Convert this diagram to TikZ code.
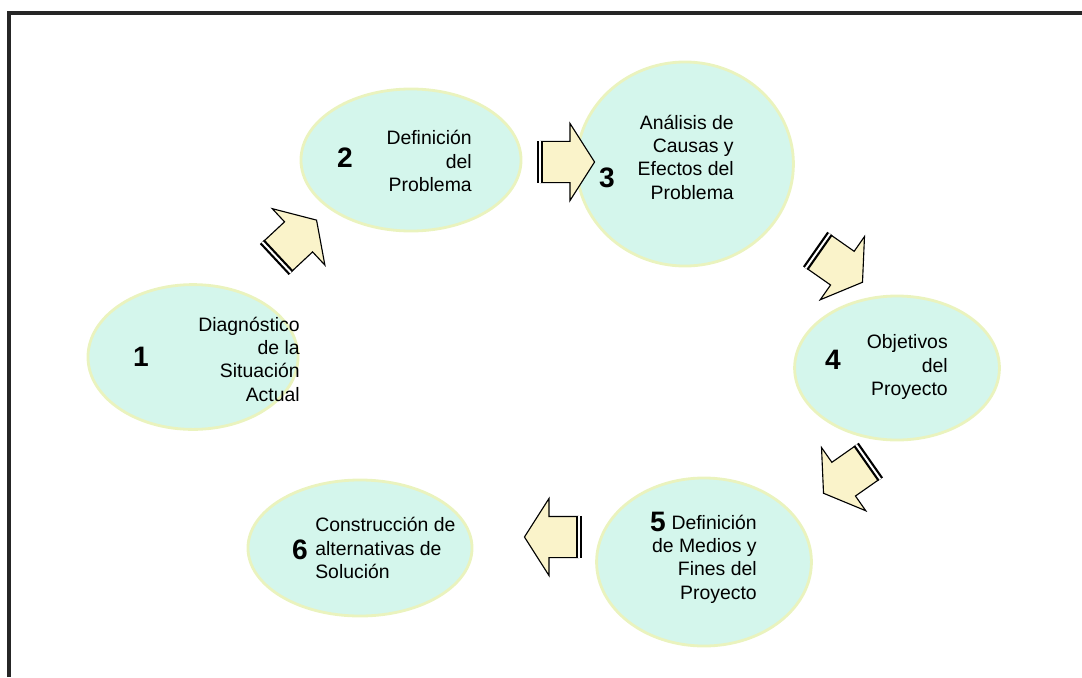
\documentclass[tikz,border=0pt]{standalone}
\usepackage{fontspec}
\setmainfont{Liberation Sans}
\usetikzlibrary{shapes.geometric,shapes.arrows,calc}
\definecolor{relleno}{RGB}{212,246,236}
\definecolor{borde}{RGB}{234,243,190}
\definecolor{crema}{RGB}{250,243,202}
\tikzset{
etapa/.style={ellipse,draw=borde,line width=2pt,fill=relleno,inner sep=0pt},
flecha/.style={single arrow,draw=black,fill=crema,line width=0.8pt,
  single arrow head extend=0.45cm,single arrow tip angle=115,
  inner xsep=0pt,inner ysep=0.5cm,minimum width=0pt,minimum height=1.35cm},
barra/.style={double=white,double distance=1.4pt,line width=1.6pt},
numero/.style={font=\fontsize{20}{24}\selectfont\bfseries,inner sep=0pt},
texto/.style={font=\fontsize{13.8}{16.6}\selectfont,align=right,inner sep=0pt}}

\begin{document}
\begin{tikzpicture}[x=0.025cm,y=-0.025cm]

\useasboundingbox (0,0) rectangle (1082,677);

\coordinate (abajo) at (9,677);
\coordinate (esquina) at (9,13);
\coordinate (derecha) at (1082,13);
\draw[line width=2.2pt,black!85] (abajo) -- (esquina) -- (derecha);

\node[etapa,minimum width=5.25cm,minimum height=3.62cm] (1) at (193,357) {};
\node[etapa,minimum width=5.5cm,minimum height=3.55cm] (2) at (411,160) {};
\node[etapa,minimum width=5.42cm,minimum height=5.1cm] (3) at (685,164) {};
\node[etapa,minimum width=5.12cm,minimum height=3.6cm] (4) at (897,368) {};
\node[etapa,minimum width=5.37cm,minimum height=4.2cm] (5) at (704,562) {};
\node[etapa,minimum width=5.6cm,minimum height=3.4cm] (6) at (360,548) {};

\node[numero] (n1) at (141,357) {1};
\node[numero] (n2) at (345,158) {2};
\node[numero] (n3) at (607,178) {3};
\node[numero] (n4) at (833,360) {4};
\node[numero] (n5) at (658,522) {5};
\node[numero] (n6) at (300,550) {6};

\node[texto,anchor=east] (t1) at (300,359) {Diagnóstico\\de la\\Situación\\Actual};
\node[texto,anchor=east] (t2) at (472,161) {Definición\\del\\Problema};
\node[texto,anchor=east] (t3) at (734,157) {Análisis de\\Causas y\\Efectos del\\Problema};
\node[texto,anchor=east] (t4) at (948,367) {Objetivos\\del\\Proyecto};
\node[texto,anchor=east] (t5) at (757,559) {Definición\\de Medios y\\Fines del\\Proyecto};
\node[texto,anchor=west,align=left] (t6) at (315,548) {Construcción de\\alternativas de\\Solución};

\node[flecha,rotate=43] (f12) at (292,243) {};
\node[flecha] (f23) at (561,162) {};
\node[flecha,rotate=-35] (f34) at (835,263) {};
\node[flecha,rotate=215] (f45) at (851,474) {};
\node[flecha,rotate=180] (f56) at (558,537) {};

\draw[barra] (f12.before tail) -- (f12.after tail);
\draw[barra] (f23.before tail) -- (f23.after tail);
\draw[barra] (f34.before tail) -- (f34.after tail);
\draw[barra] (f45.before tail) -- (f45.after tail);
\draw[barra] (f56.before tail) -- (f56.after tail);

\end{tikzpicture}
\end{document}
